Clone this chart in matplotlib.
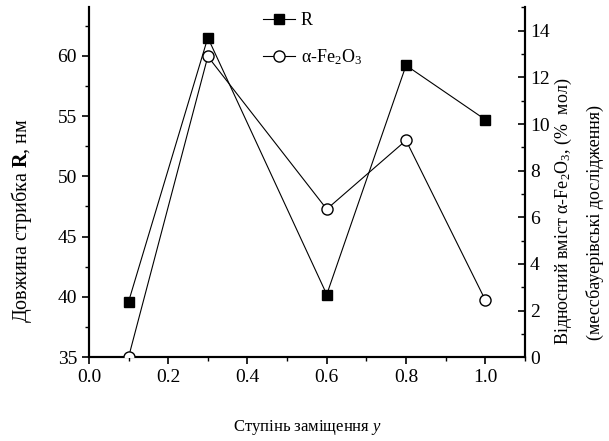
import numpy as np
import matplotlib.pyplot as plt
from matplotlib.ticker import MultipleLocator

plt.rcParams['font.family'] = ['Liberation Serif', 'DejaVu Serif']
plt.rcParams['mathtext.fontset'] = 'custom'
plt.rcParams['mathtext.rm'] = 'Liberation Serif'
plt.rcParams['mathtext.it'] = 'Liberation Serif:italic'
plt.rcParams['mathtext.bf'] = 'Liberation Serif:bold'

# Data
y_subst = [0.1, 0.3, 0.6, 0.8, 1.0]
R_nm = [39.6, 61.5, 40.2, 59.2, 54.7]
fe2o3_pct = [0.0, 12.9, 6.35, 9.3, 2.45]

fig = plt.figure(figsize=(6.09, 4.41), dpi=100)
ax = fig.add_axes([0.146, 0.19, 0.716, 0.793])
ax2 = ax.twinx()

l1, = ax.plot(y_subst, R_nm, color='black', lw=0.8, marker='s', ms=7,
              mfc='black', mec='black', label='R', zorder=3)
l2, = ax2.plot(y_subst, fe2o3_pct, color='black', lw=0.8, marker='o', ms=8,
               mfc='white', mec='black', label=r'α-Fe$_2$O$_3$', zorder=3)

ax.set_xlim(0, 1.1)
ax.set_ylim(35, 64)
ax2.set_ylim(0, 15)

ax.xaxis.set_major_locator(MultipleLocator(0.2))
ax.xaxis.set_minor_locator(MultipleLocator(0.1))
ax.yaxis.set_major_locator(MultipleLocator(5))
ax.yaxis.set_minor_locator(MultipleLocator(2.5))
ax2.yaxis.set_major_locator(MultipleLocator(2))
ax2.yaxis.set_minor_locator(MultipleLocator(1))
ax.xaxis.set_major_formatter(plt.FuncFormatter(lambda v, p: f"{v:.1f}"))

for a in (ax, ax2):
    for s in a.spines.values():
        s.set_linewidth(1.5)
    a.spines['top'].set_visible(False)
ax.tick_params(axis='both', which='major', direction='out', length=5, width=1.2, labelsize=14)
ax.tick_params(axis='both', which='minor', direction='out', length=3, width=1.0)
ax2.tick_params(axis='y', which='major', direction='in', length=5, width=1.2, labelsize=14)
ax2.tick_params(axis='y', which='minor', direction='in', length=3, width=1.0)

fig.text(0.036, 0.50, r'Довжина стрибка $\mathbf{R}$, нм', rotation=90,
         ha='center', va='center', fontsize=14.5)
fig.text(0.925, 0.52, r'Відносний вміст α-Fe$_2$O$_3$, (%  мол)', rotation=90,
         ha='center', va='center', fontsize=13)
fig.text(0.977, 0.495, '(мессбауерівські дослідження)', rotation=90,
         ha='center', va='center', fontsize=13)
fig.text(0.505, 0.03, r'Ступінь заміщення $\mathbf{\mathit{y}}$', ha='center', va='center',
         fontsize=12)

ax.legend(handles=[l1, l2], loc='upper left', bbox_to_anchor=(0.405, 1.01),
          bbox_transform=fig.transFigure, frameon=False, fontsize=13,
          handlelength=1.8, handletextpad=0.3, labelspacing=1.0)

fig.savefig('out.png', dpi=100)
